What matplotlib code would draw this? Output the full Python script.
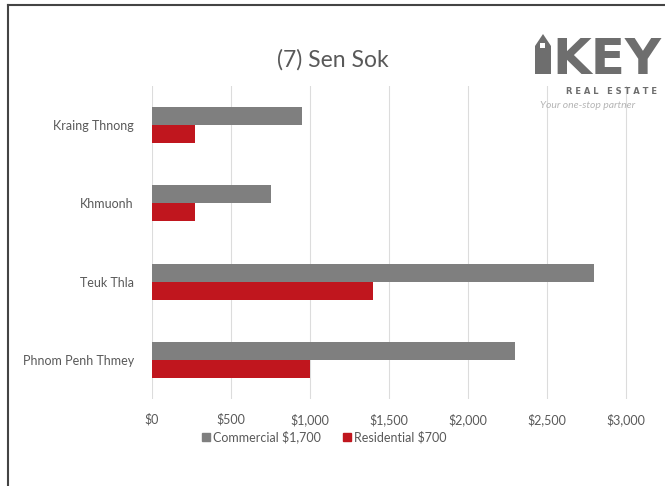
import matplotlib
matplotlib.use("Agg")
import matplotlib.pyplot as plt
from matplotlib.lines import Line2D
from matplotlib.patches import Polygon, Rectangle
from matplotlib.ticker import FuncFormatter, MultipleLocator
import numpy as np

categories = ["Kraing Thnong", "Khmuonh", "Teuk Thla", "Phnom Penh Thmey"]
commercial = [950, 750, 2800, 2300]
residential = [275, 275, 1400, 1000]
series_names = ["Commercial $1,700", "Residential $700"]
title = "(7) Sen Sok"

W, H = 665, 486
plt.rcParams["font.family"] = ["Lato", "DejaVu Sans"]
fig = plt.figure(figsize=(W / 100, H / 100), dpi=100)
fig.patch.set_facecolor("white")

TXT = "#595959"
ax = fig.add_axes([152 / W, 1 - 399 / H, (626 - 152) / W * 3150 / 3000, (399 - 86) / H])

y = np.arange(len(categories))
h = 0.23
ax.barh(y - h / 2, commercial, height=h, color="#7f7f7f", label=series_names[0], zorder=3)
ax.barh(y + h / 2, residential, height=h, color="#c0161e", label=series_names[1], zorder=3)
ax.set_ylim(len(categories) - 0.5, -0.5)
ax.set_yticks(y)
ax.set_yticklabels(categories, fontsize=9, color=TXT)
ax.xaxis.set_major_locator(MultipleLocator(500))
ax.set_xlim(0, 3150)
ax.xaxis.set_major_formatter(FuncFormatter(lambda v, p: f"${int(v):,}"))
ax.tick_params(axis="x", labelsize=9, labelcolor=TXT, length=0, pad=10)
ax.tick_params(axis="y", length=0, pad=13)
ax.grid(axis="x", color="#dcdcdc", linewidth=0.8, zorder=0)
for s in ax.spines.values():
    s.set_visible(False)

fig.text(333 / W, 1 - 60 / H, title, ha="center", va="center", fontsize=16.5, color=TXT)

handles = [Line2D([], [], marker="s", linestyle="none", color="#7f7f7f", markersize=5.5),
           Line2D([], [], marker="s", linestyle="none", color="#c0161e", markersize=5.5)]
fig.legend(handles, series_names, loc="center", bbox_to_anchor=(323 / W, 1 - 437 / H), ncol=2,
           frameon=False, fontsize=9, labelcolor=TXT, handletextpad=0.05, columnspacing=1.6,
           handlelength=1.0)

# frame lines
fig.add_artist(Line2D([8 / W, 1], [1 - 5 / H, 1 - 5 / H], color="#444444", linewidth=1.5))
fig.add_artist(Line2D([8 / W, 8 / W], [1 - 5 / H, 0], color="#444444", linewidth=1.5))

# logo
LOGO = "#6e6e6e"
def px(xp, yp):
    return (xp / W, 1 - yp / H)
fig.add_artist(Polygon([px(535, 46), px(543, 34), px(551, 46), px(551, 74), px(535, 74)],
                       closed=True, transform=fig.transFigure, facecolor=LOGO, edgecolor="none"))
fig.add_artist(Rectangle(px(540, 48), 5 / W, 5 / H, transform=fig.transFigure,
                         facecolor="white", edgecolor="none"))
fig.text(552 / W, 1 - 74 / H, "KEY", fontsize=36, fontweight="bold", color=LOGO,
         ha="left", va="baseline", family="DejaVu Sans")
fig.text(566 / W, 1 - 92 / H, "R E A L   E S T A T E", fontsize=6, fontweight="bold", color=LOGO,
         ha="left", va="center", family="DejaVu Sans")
fig.text(540 / W, 1 - 105 / H, "Your one-stop partner", fontsize=7.5, style="italic",
         color="#b5b5b5", ha="left", va="center")

fig.savefig("out.png", dpi=100, facecolor="white")
